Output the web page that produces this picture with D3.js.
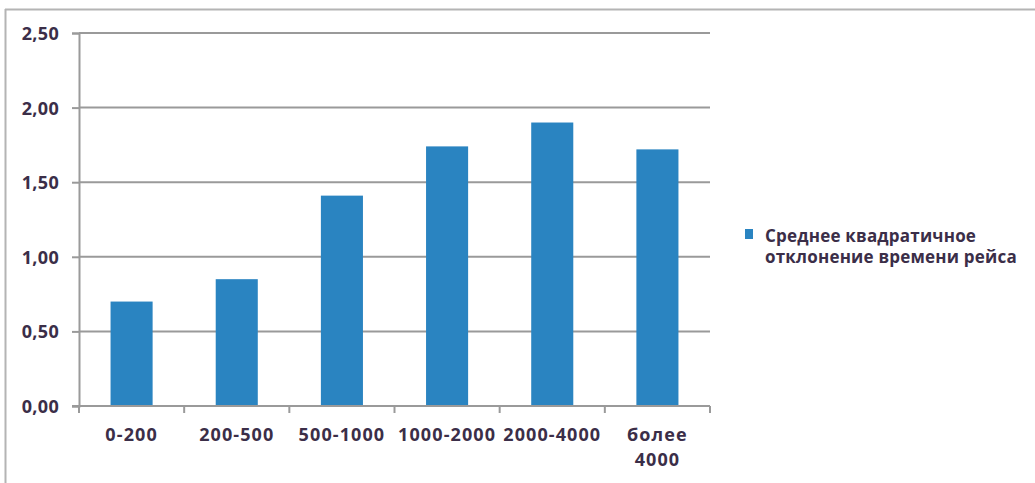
<!DOCTYPE html>
<html>
<head>
<meta charset="utf-8">
<script src="https://cdn.jsdelivr.net/npm/d3@7"></script>
<style>
  html, body { margin: 0; padding: 0; background: #fff; }
  svg { display: block; }
  text { font-family: "Open Sans", "DejaVu Sans", sans-serif; font-weight: 700; fill: #3b2e48; }
</style>
</head>
<body>
<svg id="chart" width="1035" height="483"></svg>
<script>
// Flight-distance groups and standard deviation of flight time
const categories = [["0-200"], ["200-500"], ["500-1000"], ["1000-2000"], ["2000-4000"], ["более", "4000"]];
const values = [0.70, 0.85, 1.41, 1.74, 1.90, 1.72];
const yTicks = [0, 0.5, 1.0, 1.5, 2.0, 2.5];
const legendLines = ["Среднее квадратичное", "отклонение времени рейса"];

const svg = d3.select("#chart");
const W = 1035, H = 483;
const plot = { left: 79, right: 710, top: 33, bottom: 406 };
const barColor = "#2a84c1";
const gridColor = "#9a9a9a";

// Chart frame (top and left edges)
svg.append("line").attr("x1", 5).attr("x2", W).attr("y1", 9.5).attr("y2", 9.5)
  .attr("stroke", "#b4b4b4").attr("stroke-width", 2);
svg.append("line").attr("x1", 5.5).attr("x2", 5.5).attr("y1", 9).attr("y2", H)
  .attr("stroke", "#b4b4b4").attr("stroke-width", 2);

const x = d3.scaleBand()
  .domain(d3.range(categories.length))
  .range([plot.left, plot.right])
  .paddingInner(0.6)
  .paddingOuter(0.3);

const y = d3.scaleLinear().domain([0, 2.5]).range([plot.bottom, plot.top]);

const fmt = d => d3.format(".2f")(d).replace(".", ",");

// Horizontal gridlines
svg.append("g")
  .selectAll("line")
  .data(yTicks.filter(t => t > 0))
  .join("line")
  .attr("x1", plot.left).attr("x2", plot.right)
  .attr("y1", d => y(d)).attr("y2", d => y(d))
  .attr("stroke", gridColor).attr("stroke-width", 2);

// Bars
svg.append("g")
  .selectAll("rect")
  .data(values)
  .join("rect")
  .attr("x", (d, i) => x(i))
  .attr("width", x.bandwidth())
  .attr("y", d => y(d))
  .attr("height", d => y(0) - y(d))
  .attr("fill", barColor);

// Y axis
const yAxis = svg.append("g")
  .attr("transform", `translate(${plot.left},0)`)
  .call(d3.axisLeft(y).tickValues(yTicks).tickFormat(fmt).tickSize(7).tickPadding(13));
yAxis.select(".domain").attr("stroke", gridColor).attr("stroke-width", 2);
yAxis.selectAll(".tick line").attr("stroke", gridColor).attr("stroke-width", 2);
yAxis.selectAll(".tick text")
  .attr("font-size", 18).attr("font-family", null).attr("fill", null)
  .attr("letter-spacing", 0.3)
  .attr("dy", "0.36em");

// X axis with ticks at category boundaries
const xAxisG = svg.append("g").attr("transform", `translate(0,${plot.bottom})`);
xAxisG.append("line").attr("x1", plot.left - 7).attr("x2", plot.right)
  .attr("stroke", gridColor).attr("stroke-width", 2);
const step = x.step();
const bounds = d3.range(categories.length + 1).map(i => plot.left + i * step);
xAxisG.selectAll(".xtick")
  .data(bounds)
  .join("line")
  .attr("class", "xtick")
  .attr("x1", d => d).attr("x2", d => d)
  .attr("y1", 0).attr("y2", 7)
  .attr("stroke", gridColor).attr("stroke-width", 2);

// Category labels (multi-line where needed)
const catLabels = svg.append("g")
  .selectAll("text")
  .data(categories)
  .join("text")
  .attr("x", (d, i) => x(i) + x.bandwidth() / 2)
  .attr("y", plot.bottom + 35)
  .attr("text-anchor", "middle")
  .attr("font-size", 18)
  .attr("letter-spacing", 1.1);
catLabels.selectAll("tspan")
  .data(d => d)
  .join("tspan")
  .attr("x", function () { return d3.select(this.parentNode).attr("x"); })
  .attr("dy", (d, i) => i === 0 ? 0 : 25)
  .text(d => d);

// Legend
const legend = svg.append("g").attr("transform", "translate(745,229)");
legend.append("rect").attr("width", 8).attr("height", 10).attr("fill", barColor);
legend.selectAll("text")
  .data(legendLines)
  .join("text")
  .attr("x", 20)
  .attr("y", (d, i) => 13 + i * 21)
  .attr("font-size", 17)
  .attr("letter-spacing", 0.2)
  .text(d => d);
</script>
</body>
</html>
